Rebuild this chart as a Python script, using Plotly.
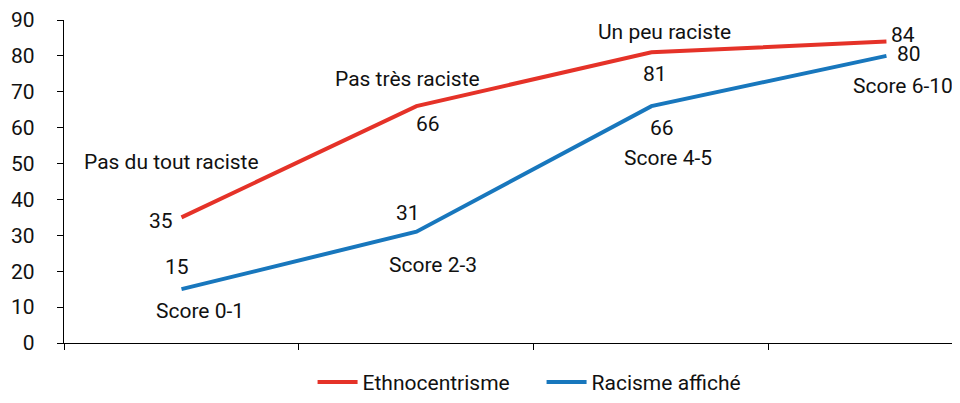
import plotly.graph_objects as go

# Data
positions = [0, 1, 2, 3]
ethnocentrisme = [35, 66, 81, 84]
racisme_affiche = [15, 31, 66, 80]
ethno_categories = ["Pas du tout raciste", "Pas très raciste", "Un peu raciste"]
racisme_categories = ["Score 0-1", "Score 2-3", "Score 4-5", "Score 6-10"]
series_names = ["Ethnocentrisme", "Racisme affiché"]
y_ticks = [0, 10, 20, 30, 40, 50, 60, 70, 80, 90]

RED = "#e53228"
BLUE = "#1877bd"
FONT = "Roboto"
FS = 21
TXT = "#111111"

fig = go.Figure()
fig.add_trace(go.Scatter(x=positions, y=ethnocentrisme, mode="lines", name=series_names[0],
                         line=dict(color=RED, width=4)))
fig.add_trace(go.Scatter(x=positions, y=racisme_affiche, mode="lines", name=series_names[1],
                         line=dict(color=BLUE, width=4)))

# offsets (pixels) for labels
ethno_val_off = [(-20, -4), (12, -18), (4, -22), (17, 7)]
ethno_cat_off = [(-10, 55), (-9, 27), (13, 20)]
rac_val_off = [(-4, 22), (-8, 19), (11, -22), (23, 2)]
rac_cat_off = [(19, -22), (17, -33), (17, -52), (17, -30)]

ann = []
def add(x, y, text, off):
    ann.append(dict(x=x, y=y, xref="x", yref="y", text=text, showarrow=False,
                    xshift=off[0], yshift=off[1], xanchor="center", yanchor="middle",
                    font=dict(family=FONT, size=FS, color=TXT)))

for i, v in enumerate(ethnocentrisme):
    add(positions[i], v, str(v), ethno_val_off[i])
for i, t in enumerate(ethno_categories):
    add(positions[i], ethnocentrisme[i], t, ethno_cat_off[i])
for i, v in enumerate(racisme_affiche):
    add(positions[i], v, str(v), rac_val_off[i])
for i, t in enumerate(racisme_categories):
    add(positions[i], racisme_affiche[i], t, rac_cat_off[i])

fig.update_layout(
    width=952, height=395,
    margin=dict(l=56, r=0, t=9, b=58),
    paper_bgcolor="white", plot_bgcolor="white",
    font=dict(family=FONT, size=FS, color=TXT),
    annotations=ann,
    showlegend=True,
    legend=dict(orientation="h", x=0.533, xanchor="center", y=-0.122, yanchor="middle",
                font=dict(family=FONT, size=FS, color=TXT), itemwidth=40,
                entrywidth=174, entrywidthmode="pixels", tracegroupgap=0),
    xaxis=dict(range=[-0.5, 3.313], tickvals=[-0.5, 0.5, 1.5, 2.5, 3.5], ticktext=["", "", "", "", ""],
               ticks="outside", ticklen=6, tickcolor="black", tickwidth=1.3,
               showline=True, linecolor="black", linewidth=1.3, showgrid=False, zeroline=False,
               fixedrange=True),
    yaxis=dict(range=[0, 90], tickvals=y_ticks, ticks="outside", ticklen=6, tickcolor="black",
               tickwidth=1.3, showline=True, linecolor="black", linewidth=1.3, showgrid=False,
               zeroline=False, ticklabelstandoff=18, ticklabeloverflow="allow",
               tickfont=dict(family=FONT, size=FS, color=TXT)),
)

fig.write_html("out.html")
